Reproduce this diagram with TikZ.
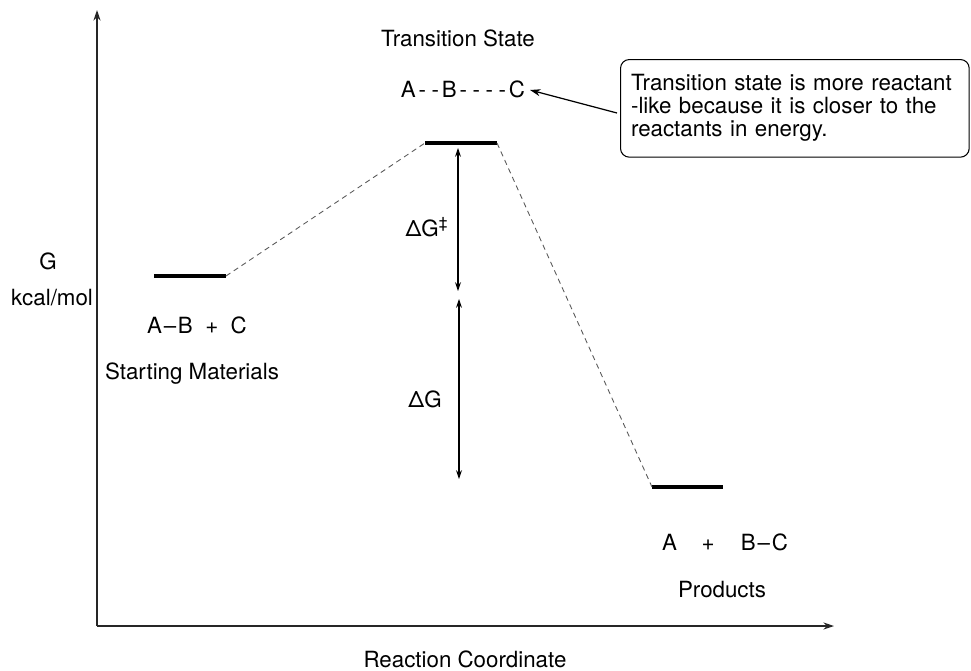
\documentclass[tikz,border=0pt]{standalone}
\usepackage{fontspec}
\setmainfont{TeX Gyre Heros}
\usetikzlibrary{arrows.meta}

\tikzset{
  level/.style={line width=2.3pt},
  link/.style={gray!70!black, line width=0.5pt, dash pattern=on 3pt off 2.3pt},
  gap/.style={{Stealth[length=5pt,width=3.4pt]}-{Stealth[length=5pt,width=3.4pt]}, line width=0.6pt},
  lbl/.style={font=\fontsize{12.7}{13}\selectfont, anchor=base, inner sep=0pt},
  note/.style={draw, rounded corners=5pt, line width=0.6pt, align=left,
    font=\fontsize{12.7}{13}\selectfont, inner sep=0pt}
}
\newcommand{\bnd}{\kern1.6pt-\kern1.6pt}

\begin{document}
\begin{tikzpicture}[>={Stealth[length=6pt,width=4pt]}, x=0.02cm, y=-0.02cm]
  % Free energy diagram: A-B + C -> A + B-C
  % (pixel-like units, y grows downwards)
  \useasboundingbox (0,0) rectangle (971,670);
  % Axes
  \coordinate (o) at (97,626);
  \coordinate (ytop) at (97,10);
  \coordinate (xend) at (834,626);
  \draw[->, line width=0.8pt, gray!30!black] (o) -- (ytop);
  \draw[->, line width=0.8pt, gray!30!black] (o) -- (xend);
  \node[lbl] (g) at (48,269) {G};
  \node[lbl] (unit) at (52,305) {kcal/mol};
  \node[lbl] (rc) at (465,667) {Reaction Coordinate};
  % Energy levels
  \coordinate (sm-l) at (154,276);
  \coordinate (sm-r) at (226,276);
  \coordinate (ts-l) at (425,143);
  \coordinate (ts-r) at (497,143);
  \coordinate (pr-l) at (652,487);
  \coordinate (pr-r) at (723,487);
  \draw[level] (sm-l) -- (sm-r);
  \draw[level] (ts-l) -- (ts-r);
  \draw[level] (pr-l) -- (pr-r);
  % Dashed connections between the levels
  \draw[link] (sm-r) -- (ts-l);
  \draw[link] (ts-r) -- (pr-l);
  % Labels of the states
  \node[lbl] (smf) at (197,333) {A\kern1pt–\kern1pt B\ \ +\ \ C};
  \node[lbl] (smn) at (192,379) {Starting Materials};
  \node[lbl] (tsn) at (458,46) {Transition State};
  \node[lbl] (tsf) at (463,97) {A\bnd\bnd B\bnd\bnd\bnd\bnd C};
  \node[lbl] (prf) at (725,550) {A\hspace{14pt}+\hspace{15pt}B\kern1pt–\kern1pt C};
  \node[lbl] (prn) at (722,597) {Products};
  % Energy differences
  \coordinate (a1) at (458,148);
  \coordinate (a2) at (458,291);
  \coordinate (b1) at (459,299);
  \coordinate (b2) at (459,479);
  \draw[gap] (a1) -- (a2);
  \draw[gap] (b1) -- (b2);
  \node[lbl] (dga) at (427,236) {ΔG\textsuperscript{‡}};
  \node[lbl] (dg) at (425,407) {ΔG};
  % Comment box
  \node[note, minimum height=98pt*0.567, text width=350pt*0.567,
    anchor=north west] (box) at (620,59)
    {\hspace{6pt}\begin{tabular}{@{}l@{}}Transition state is more reactant\\
     -like because it is closer to the\\
     reactants in energy.\end{tabular}};
  \coordinate (tail) at (617,113);
  \coordinate (tip) at (530,90);
  \draw[->, line width=0.7pt] (tail) -- (tip);
\end{tikzpicture}
\end{document}
